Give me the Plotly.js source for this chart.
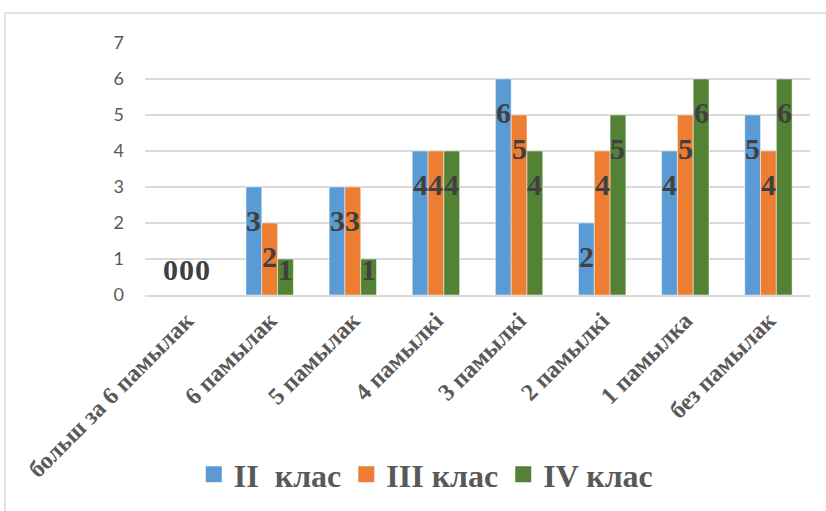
<!DOCTYPE html>
<html>
<head>
<meta charset="utf-8">
<script src="https://cdn.plot.ly/plotly-3.0.1.min.js"></script>
<style>
html,body{margin:0;padding:0;background:#fff;}
#chart{width:826px;height:511px;}
</style>
</head>
<body>
<div id="chart"></div>
<script>
const categories = ["больш за 6 памылак","6 памылак","5 памылак","4 памылкі","3 памылкі","2 памылкі","1 памылка","без памылак"];
const seriesNames = ["II\u00a0\u00a0клас","III клас","IV клас"];
const class2 = [0,3,3,4,6,2,4,5];
const class3 = [0,2,3,4,5,4,5,4];
const class4 = [0,1,1,4,4,5,6,6];
const yTicks = [0,1,2,3,4,5,6,7];

const colors = ["#5B9BD5","#ED7D31","#548235"];
const series = [class2, class3, class4];
const bargap = 0.43;
const barW = (1 - bargap) / 3;

const traces = series.map((vals, k) => ({
  type: "bar",
  name: seriesNames[k],
  x: categories,
  y: vals,
  showlegend: false,
  marker: {color: colors[k], line: {color: "rgba(255,255,255,0.6)", width: 0.8}},
  hoverinfo: "none"
}));
// legend entries with larger square swatches
series.forEach((vals, k) => {
  traces.push({
    type: "scatter", mode: "markers",
    name: seriesNames[k],
    x: [null], y: [null],
    marker: {symbol: "square", size: 16, color: colors[k]},
    showlegend: true, hoverinfo: "none"
  });
});

const annotations = [];
series.forEach((vals, k) => {
  vals.forEach((v, i) => {
    annotations.push({
      xref: "x", yref: "y",
      x: i + (k - 1) * barW,
      y: Math.max(v - 0.92, 0.72),
      text: String(v),
      showarrow: false,
      xanchor: "center", yanchor: "middle",
      font: {family: "Liberation Serif, Times New Roman, serif", size: 30, color: "#404040", weight: "bold"}
    });
  });
});

const layout = {
  width: 826, height: 511,
  margin: {l: 145, r: 16, t: 43, b: 216, autoexpand: false},
  paper_bgcolor: "#fff", plot_bgcolor: "#fff",
  barmode: "group",
  bargap: bargap,
  bargroupgap: 0,
  showlegend: true,
  legend: {
    orientation: "h",
    x: 0.423, xanchor: "center",
    y: -0.712, yanchor: "middle",
    font: {family: "Liberation Serif, Times New Roman, serif", size: 32, color: "#595959", weight: "bold"},
    itemwidth: 30,
    itemsizing: "trace",
    traceorder: "normal"
  },
  xaxis: {
    type: "category",
    tickangle: -45,
    tickfont: {family: "Liberation Serif, Times New Roman, serif", size: 24, color: "#595959", weight: "bold"},
    showgrid: false,
    showline: true, linecolor: "#d9d9d9", linewidth: 2,
    ticks: "", fixedrange: true, automargin: false
  },
  yaxis: {
    range: [0, 7],
    tickvals: yTicks,
    ticktext: yTicks.map(String),
    tickfont: {family: "Lato, Open Sans, sans-serif", size: 18, color: "#595959"},
    showgrid: true, gridcolor: "#d9d9d9", gridwidth: 2,
    zeroline: false, showline: false,
    ticks: "", ticklabelstandoff: 20, fixedrange: true, automargin: false
  },
  annotations: annotations,
  shapes: [{
    type: "rect", xref: "paper", yref: "paper",
    x0: (5 - 145) / 665, x1: (840 - 145) / 665,
    y0: (295 - 530) / 252, y1: (295 - 13) / 252,
    line: {color: "#d9d9d9", width: 1.5}, fillcolor: "rgba(0,0,0,0)", layer: "below"
  }]
};

Plotly.newPlot("chart", traces, layout, {displayModeBar: false, staticPlot: true});
</script>
</body>
</html>
